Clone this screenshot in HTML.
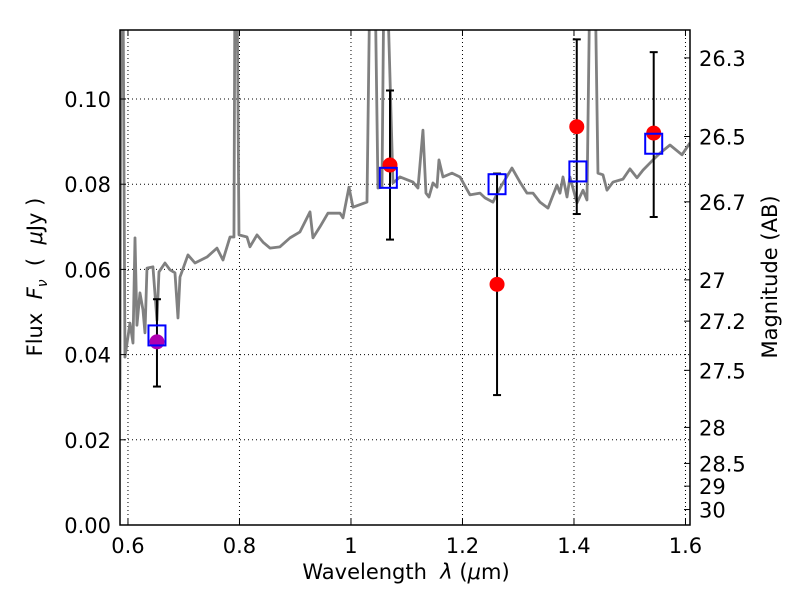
<!DOCTYPE html>
<html><head><meta charset="utf-8"><style>
html,body{margin:0;padding:0;background:#fff;}
svg{display:block;font-family:"DejaVu Sans","Liberation Sans",sans-serif;}
</style></head><body>
<svg id="chart" width="800" height="600" viewBox="0 0 800 600" xmlns="http://www.w3.org/2000/svg"></svg>
<script>
// ---- data ----
const specWave = [0.5857,0.5874,0.591,0.5946,0.6036,0.609,0.6126,0.6161,0.6215,0.6269,0.6305,0.6341,0.6448,0.652,0.6556,0.6664,0.6753,0.6843,0.6897,0.6933,0.7076,0.7202,0.7417,0.7596,0.7704,0.783,0.7901,0.7919,0.7955,0.7991,0.8135,0.8188,0.8314,0.8422,0.8547,0.8726,0.8906,0.9085,0.9265,0.9318,0.9444,0.9587,0.9803,0.9857,0.9964,1.0036,1.0287,1.0341,1.043,1.0484,1.0556,1.0592,1.0646,1.0753,1.0879,1.1112,1.1202,1.1291,1.1345,1.1399,1.1471,1.1543,1.1578,1.165,1.1812,1.1955,1.2134,1.2314,1.2404,1.2547,1.2673,1.2888,1.3031,1.3157,1.3265,1.339,1.3534,1.3695,1.3749,1.3803,1.3875,1.3928,1.4054,1.4162,1.4233,1.4287,1.4377,1.443,1.452,1.4592,1.47,1.4879,1.5004,1.513,1.5238,1.5417,1.5543,1.5722,1.5937,1.6081];
const specFlux = [0.0317,0.13,0.13,0.0394,0.0474,0.0427,0.0674,0.0469,0.0545,0.0505,0.0451,0.0603,0.0606,0.0481,0.0594,0.0615,0.0599,0.0592,0.0486,0.0582,0.0634,0.0615,0.0629,0.065,0.0622,0.0676,0.0676,0.13,0.13,0.0681,0.0676,0.0653,0.0681,0.0664,0.065,0.0653,0.0674,0.0688,0.0735,0.0674,0.07,0.0732,0.0732,0.0721,0.0793,0.0746,0.0758,0.13,0.13,0.0791,0.0793,0.13,0.13,0.0803,0.0817,0.0805,0.0791,0.0927,0.0779,0.077,0.0803,0.0793,0.0857,0.0817,0.0826,0.0817,0.0775,0.0779,0.0768,0.0758,0.0791,0.0838,0.0805,0.0779,0.0779,0.0758,0.0744,0.0798,0.0779,0.0817,0.077,0.0817,0.0756,0.0786,0.0763,0.13,0.13,0.0826,0.0822,0.0786,0.0805,0.0812,0.0836,0.0815,0.0833,0.0857,0.0873,0.0892,0.0869,0.0897];
const obsWave = [0.652,1.07,1.262,1.405,1.543];
const obsFlux = [0.043,0.0845,0.0565,0.0935,0.092];
const obsLow = [0.0325,0.067,0.0305,0.073,0.0723];
const obsHigh = [0.053,0.102,0.0825,0.114,0.111];
const modelWave = [0.652,1.067,1.262,1.407,1.543];
const modelFlux = [0.0445,0.0815,0.080,0.083,0.0895];
const xTicks = [0.6,0.8,1.0,1.2,1.4,1.6];
const xTickLabels = ["0.6","0.8","1","1.2","1.4","1.6"];
const yTicks = [0,0.02,0.04,0.06,0.08,0.10];
const yTickLabels = ["0.00","0.02","0.04","0.06","0.08","0.10"];
const magTicks = [26.3,26.5,26.7,27,27.2,27.5,28,28.5,29,30];
const magTickLabels = ["26.3","26.5","26.7","27","27.2","27.5","28","28.5","29","30"];

// ---- layout ----
const L=120,R=690,T=30,B=525;
const xMin=0.5857,xMax=1.6081,yMin=0,yMax=0.1162;
const X=v=>L+(v-xMin)/(xMax-xMin)*(R-L);
const Y=v=>B-(v-yMin)/(yMax-yMin)*(B-T);
const magToFlux=m=>Math.pow(10,(23.9-m)/2.5);
const svg=document.getElementById('chart');
const NS='http://www.w3.org/2000/svg';
function mk(tag,attrs,parent){const e=document.createElementNS(NS,tag);for(const k in attrs)e.setAttribute(k,attrs[k]);(parent||svg).appendChild(e);return e;}

const defs=mk('defs',{});
const cp=mk('clipPath',{id:'clip'},defs);
mk('rect',{x:L,y:T,width:R-L,height:B-T},cp);

const grid=mk('g',{});


xTicks.forEach(v=>{mk('line',{x1:X(v),x2:X(v),y1:T,y2:B,stroke:'#000','stroke-width':1,'stroke-dasharray':'1,3'},grid);});
yTicks.forEach(v=>{mk('line',{x1:L,x2:R,y1:Y(v),y2:Y(v),stroke:'#000','stroke-width':1,'stroke-dasharray':'1,3'},grid);});

const sp=mk('polyline',{points:specWave.map((w,i)=>X(w)+','+Y(specFlux[i])).join(' '),fill:'none',stroke:'#808080','stroke-width':2.8,'clip-path':'url(#clip)','stroke-linejoin':'round'});



obsWave.forEach((w,i)=>{
  const g=mk('g',{});
  
  
  const x=X(w);
  mk('line',{x1:x,x2:x,y1:Y(obsLow[i]),y2:Y(obsHigh[i]),stroke:'#000','stroke-width':2},g);
  mk('line',{x1:x-4,x2:x+4,y1:Y(obsLow[i]),y2:Y(obsLow[i]),stroke:'#000','stroke-width':2},g);
  mk('line',{x1:x-4,x2:x+4,y1:Y(obsHigh[i]),y2:Y(obsHigh[i]),stroke:'#000','stroke-width':2},g);
});
obsWave.forEach((w,i)=>{
  const c=mk('circle',{cx:X(w),cy:Y(obsFlux[i]),r:7.5,fill:i===0?'#b000b0':'#ff0000'});
  
  
});
modelWave.forEach((w,i)=>{
  const s=mk('rect',{x:X(w)-8.5,y:Y(modelFlux[i])-10,width:17,height:20,fill:'none',stroke:'#0000ff','stroke-width':2});
  
  
});

const fr=mk('rect',{x:L,y:T,width:R-L,height:B-T,fill:'none',stroke:'#000','stroke-width':1.5});



xTicks.forEach((v,i)=>{
  const x=X(v);
  mk('line',{x1:x,x2:x,y1:B,y2:B-6,stroke:'#000'});
  mk('line',{x1:x,x2:x,y1:T,y2:T+6,stroke:'#000'});
  const t=mk('text',{x:x,y:B+28,'font-size':21,'text-anchor':'middle'});
  t.textContent=xTickLabels[i];
  
  
});
yTicks.forEach((v,i)=>{
  const y=Y(v);
  mk('line',{x1:L,x2:L+6,y1:y,y2:y,stroke:'#000'});
  const t=mk('text',{x:L-9,y:y+8,'font-size':21,'text-anchor':'end'});
  t.textContent=yTickLabels[i];
  
  
});
magTicks.forEach((m,i)=>{
  const y=Y(magToFlux(m));
  mk('line',{x1:R,x2:R-6,y1:y,y2:y,stroke:'#000'});
  const t=mk('text',{x:R+9,y:y+8,'font-size':21,'text-anchor':'start'});
  t.textContent=magTickLabels[i];
  
  
});
</script>
<div style="position:absolute;left:0;top:0;width:800px;height:600px;pointer-events:none;font-family:'DejaVu Sans','Liberation Sans',sans-serif;">
  <div style="position:absolute;left:0;width:812px;top:560px;text-align:center;font-size:21px;">Wavelength&nbsp; <i>λ</i> (<i>μ</i>m)</div>
  <div style="position:absolute;left:37px;top:277px;transform:translate(-50%,-50%) rotate(-90deg);white-space:nowrap;font-size:21px;">Flux&nbsp; <i>F<sub style="font-size:14px">ν</sub></i>&nbsp; (&nbsp; <i>μ</i>Jy )</div>
  <div style="position:absolute;left:770px;top:277px;transform:translate(-50%,-50%) rotate(-90deg);white-space:nowrap;font-size:21px;">Magnitude (AB)</div>
</div>
</body></html>
